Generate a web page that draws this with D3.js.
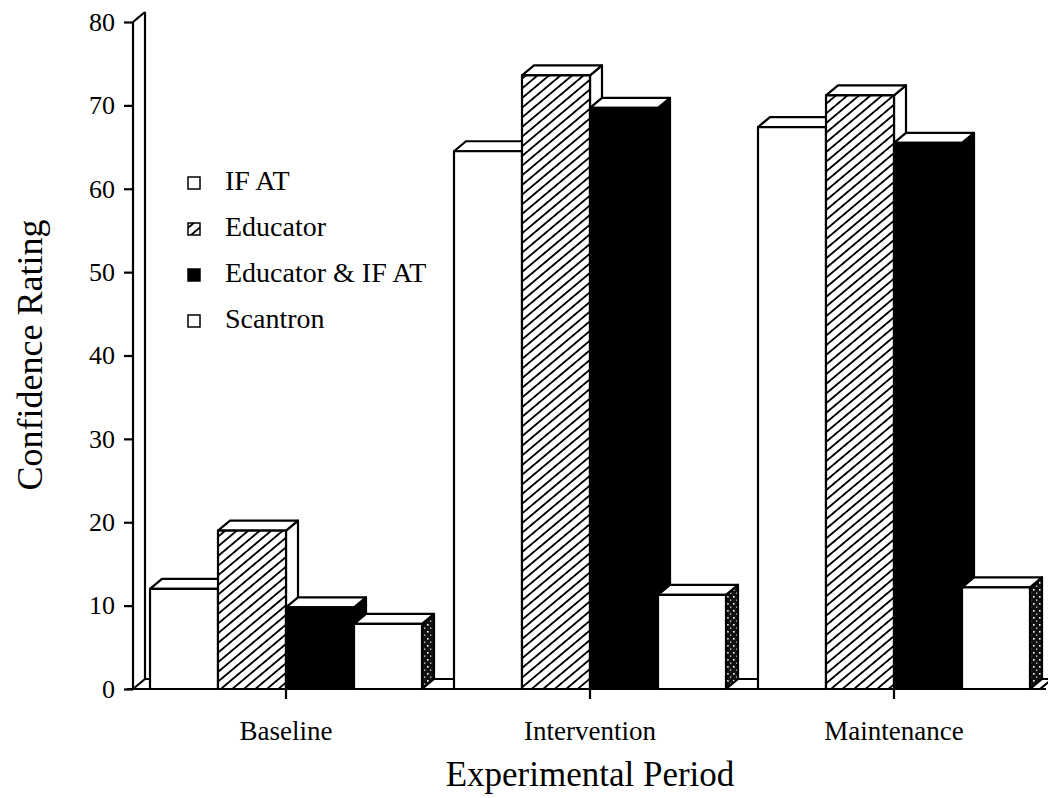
<!DOCTYPE html>
<html>
<head>
<meta charset="utf-8">
<script src="https://cdn.jsdelivr.net/npm/d3@7"></script>
<style>
  html, body { margin: 0; padding: 0; background: #fff; }
  svg { display: block; }
  text { font-family: "Liberation Serif", "Times New Roman", "DejaVu Serif", serif; fill: #000; }
</style>
</head>
<body>
<svg id="chart" width="1048" height="798"></svg>
<script>
// ---- data ----
const categories = ["Baseline", "Intervention", "Maintenance"];
const seriesNames = ["IF AT", "Educator", "Educator & IF AT", "Scantron"];
const ifatValues      = [12.0, 64.5, 67.4];
const educatorValues  = [19.0, 73.6, 71.2];
const bothValues      = [9.8, 69.7, 65.5];
const scantronValues  = [7.8, 11.3, 12.2];
const yTicks = [0, 10, 20, 30, 40, 50, 60, 70, 80];
const yTitle = "Confidence Rating";
const xTitle = "Experimental Period";

const seriesValues = [ifatValues, educatorValues, bothValues, scantronValues];

const svg = d3.select("#chart");
const defs = svg.append("defs");

// hatch pattern "/"
const hatch = defs.append("pattern")
  .attr("id", "hatch").attr("patternUnits", "userSpaceOnUse")
  .attr("width", 10).attr("height", 7.4)
  .attr("patternTransform", "rotate(-40)");
hatch.append("rect").attr("width", 10).attr("height", 7.4).attr("fill", "#fff");
hatch.append("line").attr("x1", 0).attr("x2", 10).attr("y1", 3.7).attr("y2", 3.7)
  .attr("stroke", "#000").attr("stroke-width", 1.8);

// stipple pattern (dark with white specks)
const stip = defs.append("pattern")
  .attr("id", "stipple").attr("patternUnits", "userSpaceOnUse")
  .attr("width", 6).attr("height", 7);
stip.append("rect").attr("width", 6).attr("height", 7).attr("fill", "#111");
stip.append("rect").attr("x", 1).attr("y", 1).attr("width", 1.6).attr("height", 1.6).attr("fill", "#fff");
stip.append("rect").attr("x", 4).attr("y", 4.5).attr("width", 1.3).attr("height", 1.3).attr("fill", "#ddd");

const styles = [
  { front: "#fff", top: "#fff", side: "#fff" },
  { front: "url(#hatch)", top: "#fff", side: "#fff" },
  { front: "#000", top: "#fff", side: "#000" },
  { front: "#fff", top: "#fff", side: "url(#stipple)" }
];

// ---- scales ----
const y = d3.scaleLinear().domain([0, 80]).range([689, 22]);
const x0 = d3.scaleBand().domain(categories).range([150, 1030])
  .paddingInner(32 / 304).paddingOuter(0);
const x1 = d3.scaleBand().domain(seriesNames).range([0, x0.bandwidth()]).padding(0);

const DX = 12, DY = 10;
const axisX = 133;
const y0 = y(0);
const SW = 2.2;

// ---- wall & floor ----
const frame = svg.append("g").attr("fill", "none").attr("stroke", "#000").attr("stroke-width", SW);
frame.append("line").attr("x1", axisX + DX).attr("y1", y0 - DY).attr("x2", 1052).attr("y2", y0 - DY);
frame.append("line").attr("x1", 1040).attr("y1", y0).attr("x2", 1052).attr("y2", y0 - DY);
frame.append("line").attr("x1", axisX).attr("y1", y0).attr("x2", axisX + DX).attr("y2", y0 - DY);
frame.append("line").attr("x1", axisX + DX).attr("y1", y0 - DY).attr("x2", axisX + DX).attr("y2", y(80) - DY);
frame.append("line").attr("x1", axisX).attr("y1", y(80)).attr("x2", axisX + DX).attr("y2", y(80) - DY);

// ---- y axis ----
const yAxis = d3.axisLeft(y).tickValues(yTicks).tickSize(9).tickPadding(9).tickFormat(d3.format("d"));
const gy = svg.append("g").attr("transform", `translate(${axisX},0)`).call(yAxis);
gy.select(".domain").attr("stroke-width", SW).attr("d", `M0,${y0}V${y(80)}`);
gy.selectAll(".tick line").attr("stroke-width", SW);
gy.selectAll(".tick text").attr("font-size", 26).attr("font-family", "Liberation Serif, serif");

// ---- bars ----
const data = [];
categories.forEach((c, ci) => {
  seriesNames.forEach((s, si) => {
    data.push({ cat: c, ser: s, si: si, v: seriesValues[si][ci] });
  });
});

const bars = svg.append("g").selectAll("g.bar").data(data).join("g").attr("class", "bar")
  .attr("stroke", "#000").attr("stroke-width", SW).attr("stroke-linejoin", "round");

bars.each(function (d) {
  const g = d3.select(this);
  const bx = x0(d.cat) + x1(d.ser);
  const w = x1.bandwidth();
  const yt = y(d.v);
  const st = styles[d.si];
  g.append("path")
    .attr("d", `M${bx + w},${yt} L${bx + w + DX},${yt - DY} L${bx + w + DX},${y0 - DY} L${bx + w},${y0} Z`)
    .attr("fill", st.side);
  g.append("path")
    .attr("d", `M${bx},${yt} L${bx + DX},${yt - DY} L${bx + w + DX},${yt - DY} L${bx + w},${yt} Z`)
    .attr("fill", st.top);
  g.append("rect")
    .attr("x", bx).attr("y", yt).attr("width", w).attr("height", y0 - yt)
    .attr("fill", st.front);
});

// ---- x axis ----
const xAxis = d3.axisBottom(x0).tickSize(10).tickPadding(22);
const gx = svg.append("g").attr("transform", `translate(0,${y0})`).call(xAxis);
gx.select(".domain").attr("stroke-width", SW).attr("d", `M${axisX - 6},0H1046`);
gx.selectAll(".tick line").attr("stroke-width", SW);
gx.selectAll(".tick text").attr("font-size", 27).attr("font-family", "Liberation Serif, serif");

// ---- titles ----
svg.append("text")
  .attr("transform", "translate(42,355) rotate(-90)")
  .attr("text-anchor", "middle").attr("font-size", 36)
  .text(yTitle);
svg.append("text")
  .attr("x", 590).attr("y", 786)
  .attr("text-anchor", "middle").attr("font-size", 35)
  .text(xTitle);

// ---- legend ----
const legend = svg.append("g").attr("transform", "translate(188,177)");
const lg = legend.selectAll("g").data(seriesNames).join("g")
  .attr("transform", (d, i) => `translate(0,${i * 46})`);
lg.append("rect").attr("width", 12).attr("height", 12)
  .attr("fill", (d, i) => i === 3 ? "#fff" : styles[i].front)
  .attr("stroke", "#000").attr("stroke-width", 1.5);
lg.append("text").attr("x", 37).attr("y", 13).attr("font-size", 28).text(d => d);
</script>
</body>
</html>
